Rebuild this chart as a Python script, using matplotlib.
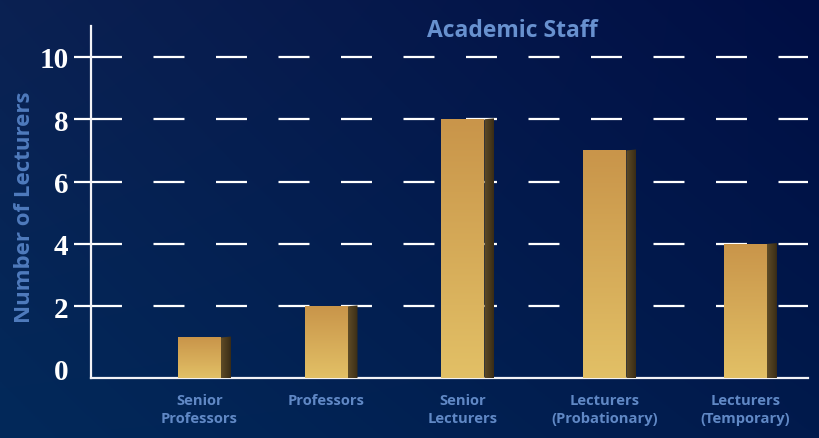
import numpy as np
import matplotlib
matplotlib.use("Agg")
import matplotlib.pyplot as plt
from matplotlib.patches import Polygon
from matplotlib.colors import to_rgb

# ---- data ----
categories = ["Senior\nProfessors", "Professors", "Senior\nLecturers",
              "Lecturers\n(Probationary)", "Lecturers\n(Temporary)"]
lecturers = [1, 2, 8, 7, 4]
y_ticks = [0, 2, 4, 6, 8, 10]
title = "Academic Staff"
y_label = "Number of Lecturers"

plt.rcParams['lines.scale_dashes'] = False

W, H = 820, 439
fig = plt.figure(figsize=(W / 100, H / 100), dpi=100)

# ---- navy background gradient (bilinear between the four corners) ----
bg = fig.add_axes([0, 0, 1, 1], zorder=-10)
tl, tr = np.array(to_rgb("#0b2152")), np.array(to_rgb("#000e44"))
bl, br = np.array(to_rgb("#02295a")), np.array(to_rgb("#011a4c"))
u = np.linspace(0, 1, 400)[None, :, None]
v = np.linspace(0, 1, 220)[:, None, None]
img = (1 - u) * (1 - v) * tl + u * (1 - v) * tr + (1 - u) * v * bl + u * v * br
bg.imshow(img, extent=[0, 1, 0, 1], aspect='auto', origin='upper')
bg.set_axis_off()

# ---- main axes ----
ax = fig.add_axes([91 / W, 60 / H, 717 / W, 352.3 / H])
ax.patch.set_alpha(0)
xlim = (-0.795, 4.458)
ylim = (-0.3, 11)
floor = ylim[0]

# slot positions of the category columns along the x axis (layout)
x = np.array([0, 0.927, 1.93, 2.97, 4.0])
front_w, side_w, side_rise = 0.315, 0.073, 0.03

top_c, bot_c = np.array(to_rgb("#c9954a")), np.array(to_rgb("#e2c066"))
t = np.linspace(0, 1, 100)[:, None, None]
front_grad = (1 - t) * top_c + t * bot_c
s_l, s_r = np.array(to_rgb("#5e4b27")), np.array(to_rgb("#3a2d16"))
s = np.linspace(0, 1, 20)[None, :, None]
side_grad = np.repeat((1 - s) * s_l + s * s_r, 2, axis=0)

bars = ax.bar(x, np.array(lecturers) - floor, bottom=floor, width=front_w,
              color='none', edgecolor='none', zorder=3)
for bar, val in zip(bars, lecturers):
    x0 = bar.get_x()
    x1 = x0 + bar.get_width()
    im = ax.imshow(front_grad, extent=[x0, x1, floor, val], aspect='auto',
                   origin='upper', zorder=3, interpolation='bilinear')
    im.set_clip_path(bar)
    side = Polygon([(x1, floor), (x1 + side_w, floor),
                    (x1 + side_w, val + side_rise), (x1, val)],
                   closed=True, facecolor='none', edgecolor='none', zorder=3)
    ax.add_patch(side)
    im2 = ax.imshow(side_grad, extent=[x1, x1 + side_w, floor, val + side_rise],
                    aspect='auto', origin='upper', zorder=3, interpolation='bilinear')
    im2.set_clip_path(side)

ax.set_xlim(*xlim)
ax.set_ylim(*ylim)
ax.set_axisbelow(True)

# ---- spines ----
for side_name in ("top", "right"):
    ax.spines[side_name].set_visible(False)
for side_name in ("left", "bottom"):
    ax.spines[side_name].set_color("#f2f2f6")
    ax.spines[side_name].set_linewidth(1.6)

# ---- y axis ----
ax.set_yticks(y_ticks)
ax.set_yticklabels([str(t) for t in y_ticks])
ax.tick_params(axis='y', length=12.2, width=1.6, color='white', pad=4,
               labelcolor='white', labelsize=21)
for lbl in ax.get_yticklabels():
    lbl.set_fontfamily("Liberation Serif")
    lbl.set_fontweight("bold")
ax.yaxis.grid(True, color='white', linewidth=1.6, linestyle=(0, (22.3, 22.7)))
first = ax.yaxis.get_major_ticks()[0]
first.tick1line.set_visible(False)
first.gridline.set_visible(False)

# ---- x axis ----
ax.set_xticks(x)
ax.set_xticklabels(categories)
ax.tick_params(axis='x', length=0, pad=11, labelcolor='#6088c5', labelsize=10.6)
for lbl in ax.get_xticklabels():
    lbl.set_fontfamily("Open Sans")
    lbl.set_fontweight("bold")
    lbl.set_linespacing(1.3)

# ---- titles ----
fig.text(512 / W, 1 - 31 / H, title, ha='center', va='center',
         color='#6891cf', fontsize=16.5, fontweight='bold', family='Open Sans')
fig.text(25 / W, 1 - 207 / H, y_label, ha='center', va='center', rotation=90,
         color='#4f7bbd', fontsize=16, fontweight='bold', family='Open Sans')

fig.savefig("out.png", dpi=100)
